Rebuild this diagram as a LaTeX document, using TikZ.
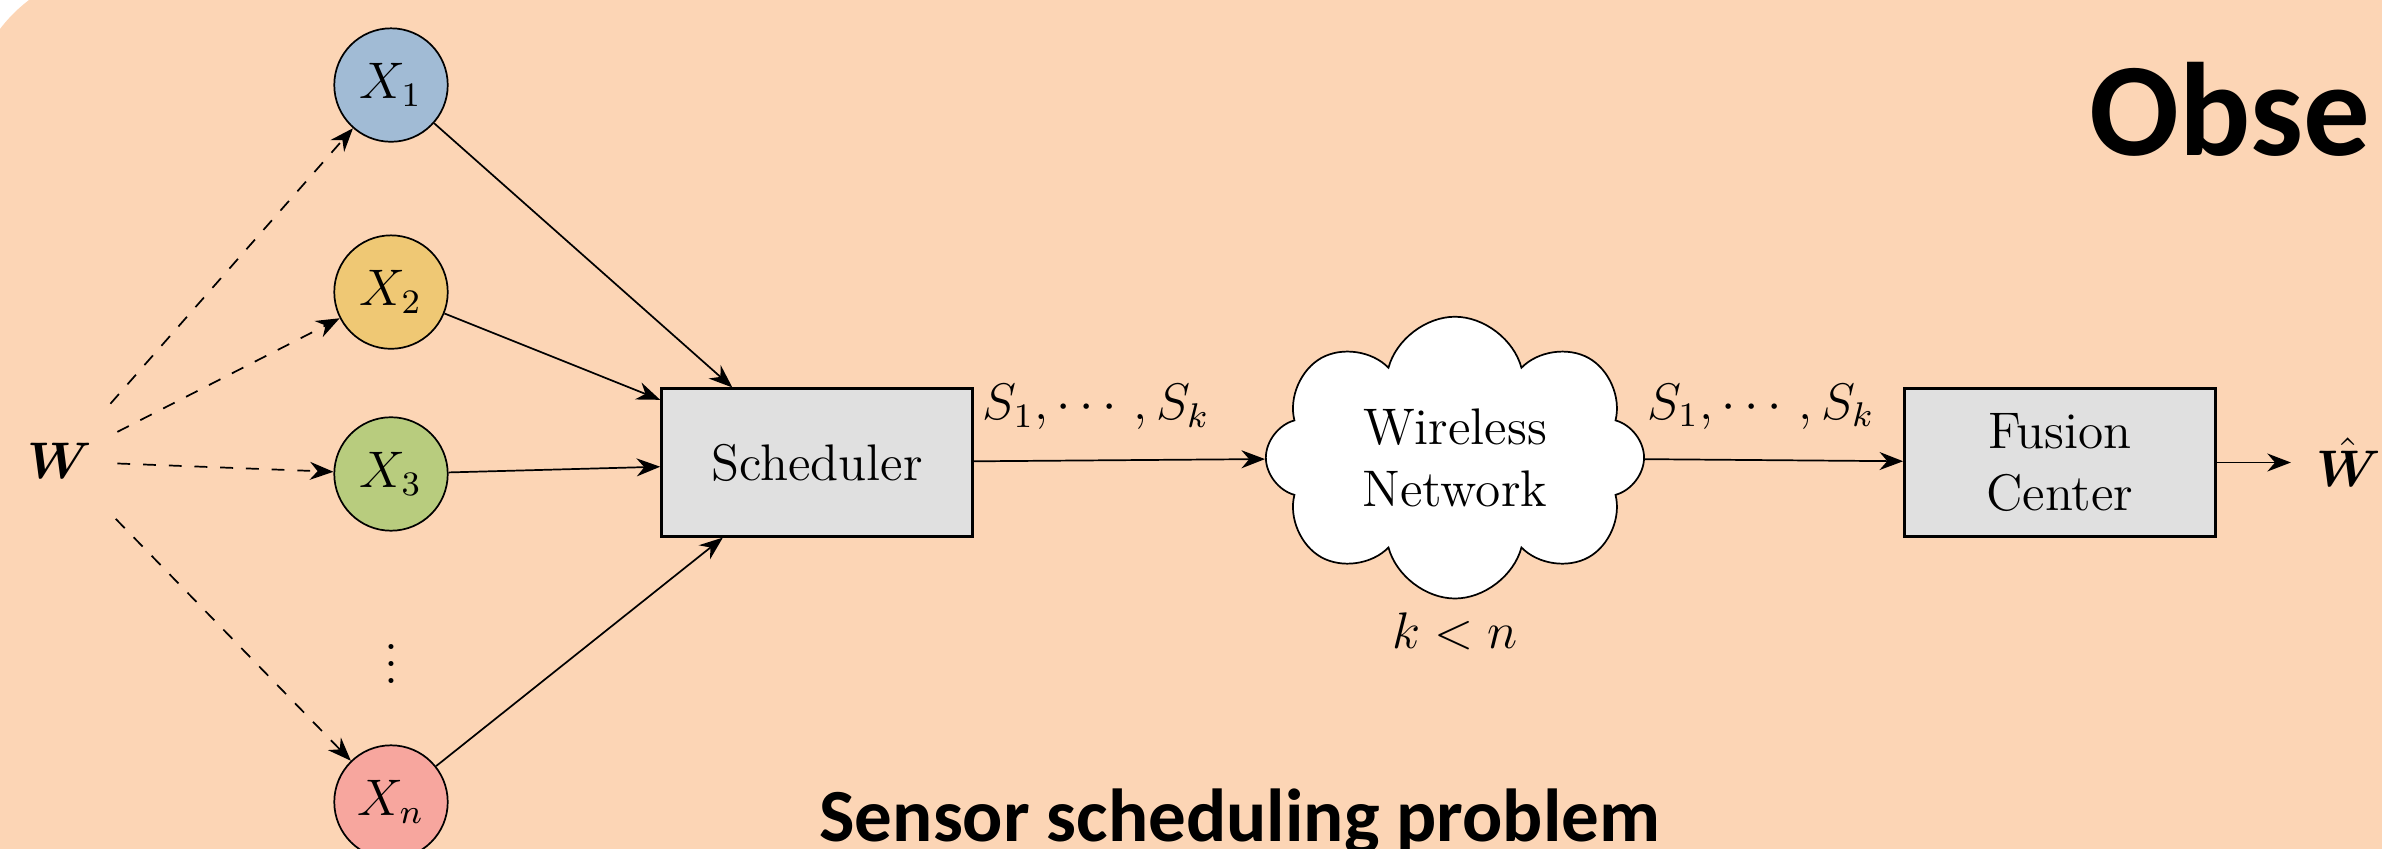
\documentclass[tikz,border=0pt,12pt]{standalone}
\usepackage{amsmath}
\usepackage{fontspec}
\newfontfamily\slidefont{Carlito}
\usetikzlibrary{shapes.symbols,arrows.meta}
\definecolor{slidebg}{RGB}{252,213,181}
\definecolor{sensblue}{RGB}{161,187,213}
\definecolor{sensyellow}{RGB}{239,200,116}
\definecolor{sensgreen}{RGB}{184,204,126}
\definecolor{sensred}{RGB}{247,166,158}
\definecolor{blockgray}{RGB}{224,224,224}
\tikzset{
  >={Stealth[length=5.5pt,width=4.2pt,inset=1.8pt]},
  sensor/.style={circle, draw, minimum size=0.93cm, inner sep=0pt},
  var/.style={minimum size=0.93cm, inner sep=0pt},
  block/.style={draw, semithick, fill=blockgray, minimum width=2.55cm, minimum height=1.21cm, align=center},
}
\begin{document}
\begin{tikzpicture}
\useasboundingbox (0,0) rectangle (19.525,6.951);
\fill[slidebg, rounded corners=1.23cm] (-0.25,-1) rectangle (21,7.2);
%\draw[help lines, step=1] (0,0) grid (19,7);
\node[var] (w) at (0.49,3.17) {$\boldsymbol{W}$};
\node[sensor, fill=sensblue] (x1) at (3.205,6.254) {$X_1$};
\node[sensor, fill=sensyellow] (x2) at (3.205,4.557) {$X_2$};
\node[sensor, fill=sensgreen] (x3) at (3.205,3.066) {$X_3$};
\node (vd) at (3.205,1.615) {$\vdots$};
\node[sensor, fill=sensred] (xn) at (3.205,0.377) {$X_n$};
\node[block] (sched) at (6.697,3.16) {Scheduler};
\node[cloud, draw, fill=white, cloud puffs=8, aspect=1.5, align=center, minimum width=3.1cm, minimum height=2.08cm] (net) at (11.926,3.2) {Wireless\\Network};
\node[below=-1pt] (kn) at (net.south) {$k<n$};
\node[block] (fc) at (16.885,3.16) {Fusion\\Center};
\node[var] (what) at (19.25,3.16) {$\hat{\boldsymbol{W}}$};
\foreach \s in {x1,x2,x3,xn} \draw[dashed,->] (w) -- (\s);
\foreach \s in {x1,x2,x3,xn} \draw[->] (\s) -- (sched);
\draw[->] (sched) -- (net) node[pos=0.42, above=3pt] {$S_1,\cdots,S_k$};
\draw[->] (net) -- (fc) node[pos=0.45, above=3pt] {$S_1,\cdots,S_k$};
\draw[->] (fc) -- (what);
\node[anchor=base west, inner sep=0, font={\slidefont\bfseries\fontsize{31}{37}\selectfont}] (title) at (17.12,5.68) {Obse};
\node[anchor=base west, inner sep=0, font={\slidefont\bfseries\fontsize{17.5}{21}\selectfont}] (caption) at (6.71,0.05) {Sensor scheduling problem};
\end{tikzpicture}
\end{document}
